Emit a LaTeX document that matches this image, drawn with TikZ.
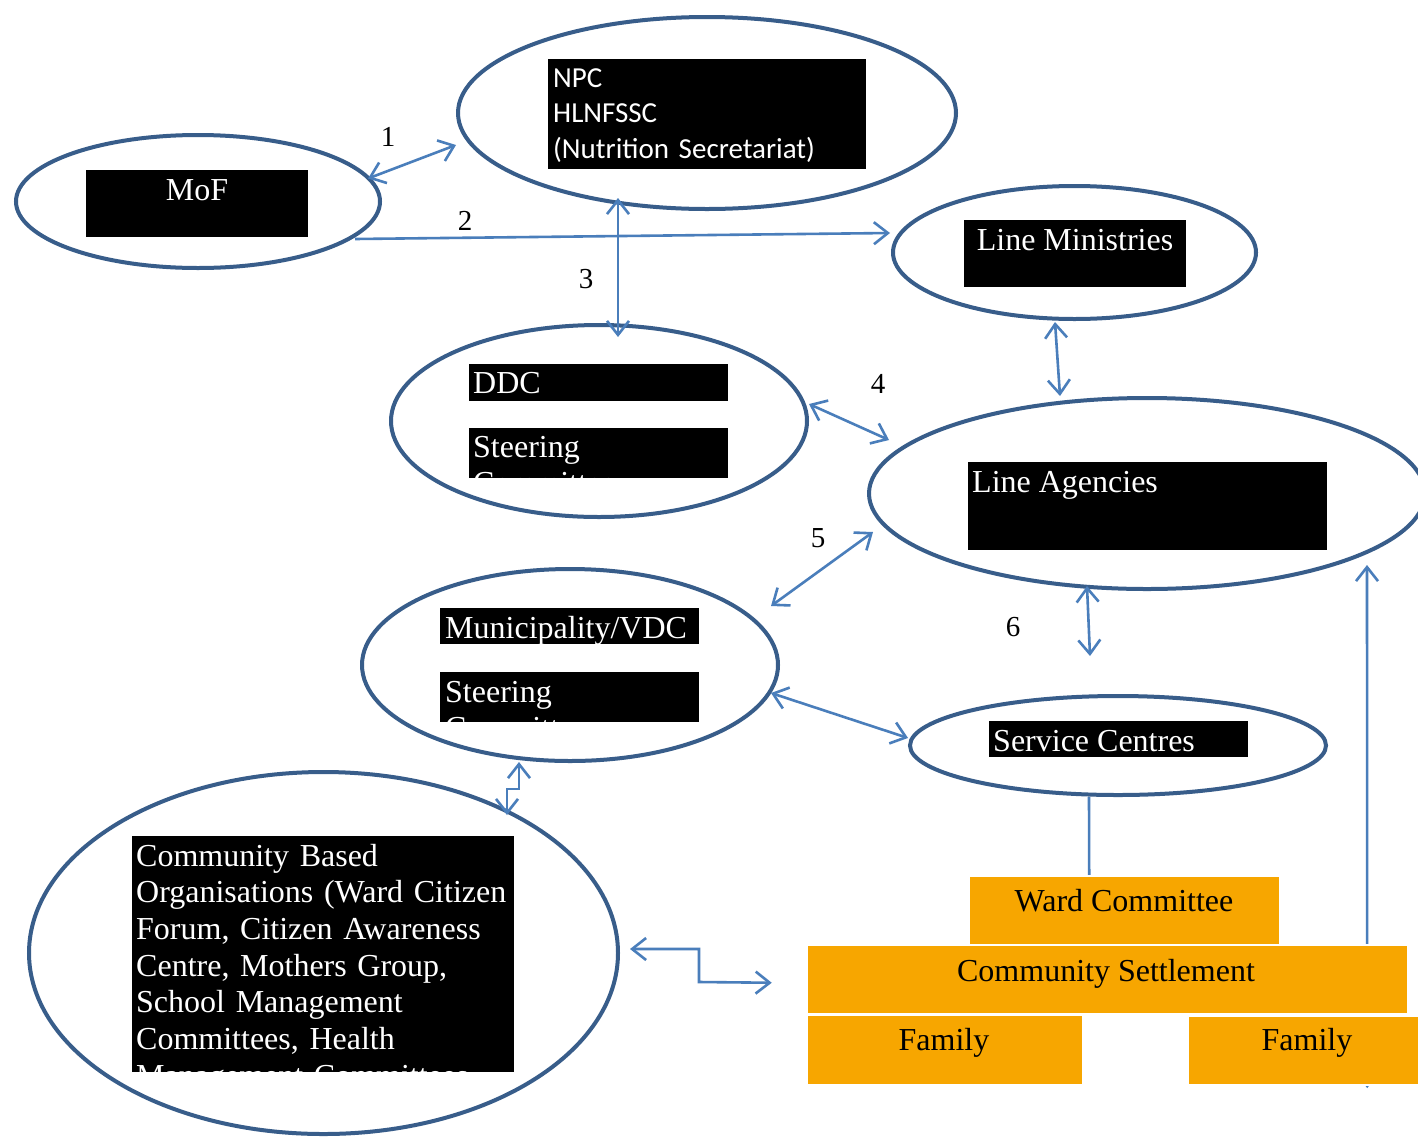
\documentclass[tikz,border=0pt]{standalone}
\usepackage{fontspec}
\setmainfont{Liberation Serif}
\newfontfamily\calfont{Carlito}
\usetikzlibrary{shapes.geometric,arrows.meta,calc}
\definecolor{ellblue}{RGB}{56,93,138}
\definecolor{arrblue}{RGB}{74,126,187}
\definecolor{orng}{RGB}{247,166,0}
\begin{document}
\begin{tikzpicture}[x=1pt,y=-1pt,
  ell/.style={ellipse, draw=ellblue, line width=4pt, inner sep=0pt},
  blk/.style={fill=black, inner sep=0pt, anchor=north west},
  obox/.style={fill=orng, draw=white, line width=1.5pt, inner sep=0pt, anchor=north west},
  wtxt/.style={text=white, inner sep=0pt, font=\fontsize{32}{36.7}\selectfont},
  btxt/.style={text=black, inner sep=0pt, anchor=base, font=\fontsize{32}{36.7}\selectfont},
  num/.style={inner sep=0pt, anchor=base, font=\fontsize{29}{30}\selectfont},
  link/.style={draw=arrblue, line width=2.6pt, >={Straight Barb[length=14pt,width=22pt]}}
]
\useasboundingbox (0,0) rectangle (1418,1138);
\clip (0,0) rectangle (1418,1138);
\fill[white] (0,0) rectangle (1418,1138);

% ellipses
\node[ell, minimum width=498, minimum height=192] (npc) at (707,113) {};
\node[ell, minimum width=364, minimum height=133] (mof) at (198,201.5) {};
\node[ell, minimum width=363, minimum height=133] (lm) at (1074.5,252.5) {};
\node[ell, minimum width=416, minimum height=192] (ddc) at (599,421) {};
\node[ell, minimum width=556, minimum height=191] (la) at (1147,493.5) {};
\node[ell, minimum width=416, minimum height=192] (muni) at (570,665) {};
\node[ell, minimum width=416, minimum height=99] (sc) at (1118,745.5) {};
\node[ell, minimum width=589, minimum height=362] (cbo) at (323.5,953) {};

% black boxes
\node[blk, minimum width=318, minimum height=110] (npcbox) at (548,59) {};
\node[blk, minimum width=222, minimum height=67] (mofbox) at (86,170) {};
\node[blk, minimum width=222, minimum height=67] (lmbox) at (964,220) {};
\node[blk, minimum width=259, minimum height=37] (ddcbox) at (469,364) {};
\node[blk, minimum width=259, minimum height=50] (ddcsbox) at (469,428) {};
\node[blk, minimum width=359, minimum height=88] (labox) at (968,462) {};
\node[blk, minimum width=259, minimum height=36] (munibox) at (440,608) {};
\node[blk, minimum width=259, minimum height=50] (munisbox) at (440,672) {};
\node[blk, minimum width=259, minimum height=36] (scbox) at (989,721) {};
\node[blk, minimum width=382, minimum height=236] (cbobox) at (132,836) {};

% white texts
\node[text=white, inner sep=0pt, anchor=base west, align=left, text width=310pt,
  font=\calfont\fontsize{29}{35.5}\selectfont] (npctxt) at (553,87)
  {NPC\\HLNFSSC\\(Nutrition Secretariat)};
\node[wtxt, anchor=base] (moftxt) at (197,200) {MoF};
\node[wtxt, anchor=base] (lmtxt) at (1075,250) {Line Ministries};
\node[wtxt, anchor=base west] (ddctxt) at (473,393) {DDC};
\begin{scope}
  \clip (ddcsbox.south west) rectangle (ddcsbox.north east);
  \node[wtxt, anchor=base west, align=left, text width=250pt] (ddcstxt) at (473,457) {Steering\\Committee};
\end{scope}
\node[wtxt, anchor=base west] (latxt) at (972,492) {Line Agencies};
\node[wtxt, anchor=base west] (munitxt) at (445,638) {Municipality/VDC};
\begin{scope}
  \clip (munisbox.south west) rectangle (munisbox.north east);
  \node[wtxt, anchor=base west, align=left, text width=250pt] (munistxt) at (445,702) {Steering\\Committee};
\end{scope}
\node[wtxt, anchor=base west] (sctxt) at (993,751) {Service Centres};
\begin{scope}
  \clip (cbobox.south west) rectangle (cbobox.north east);
  \node[wtxt, anchor=base west, align=left, text width=375pt] (cbotxt) at (136,866)
   {Community Based\\Organisations (Ward Citizen\\Forum, Citizen Awareness\\Centre, Mothers Group,\\School Management\\Committees, Health\\Management Committees};
\end{scope}

% lines behind the orange boxes
\node[inner sep=0pt, minimum width=241, minimum height=69, anchor=north west] (famRpos) at (1187,1015) {};
\draw[link, {Triangle[width=7pt,length=5pt]}-{Straight Barb[length=14pt,width=22pt]}]
  ($(famRpos.center)+(59.5,38.5)$) -- ($(la.center)+(220,71.5)$);
\node[inner sep=0pt, minimum width=311, minimum height=69, anchor=north west] (wcpos) at (968,875) {};
\draw[link] ($(sc.center)+(-29,51.5)$) -- ($(wcpos.center)+(-34.5,-34.5)$);

% orange boxes
\node[obox, minimum width=311, minimum height=69] (wc) at (968,875) {};
\node[obox, minimum width=601, minimum height=69] (cs) at (806,944) {};
\node[obox, minimum width=276, minimum height=70] (famL) at (806,1014) {};
\node[obox, minimum width=241, minimum height=69] (famR) at (1187,1015) {};
\node[btxt] (wctxt) at (1124,911) {Ward Committee};
\node[btxt] (cstxt) at (1106,981) {Community Settlement};
\node[btxt] (famLtxt) at (944,1050) {Family};
\node[btxt] (famRtxt) at (1307,1050) {Family};

% number labels
\node[num] (n1) at (388,146) {1};
\node[num] (n2) at (465,230) {2};
\node[num] (n3) at (586,288) {3};
\node[num] (n4) at (878,393) {4};
\node[num] (n5) at (818,547) {5};
\node[num] (n6) at (1013,636) {6};

% connectors
\draw[link,<->] ($(mof.center)+(170,-23)$) -- ($(npc.center)+(-251,32)$);
\draw[link,->] ($(mof.center)+(157,37.5)$) -- ($(lm.center)+(-184.5,-19.5)$);
\draw[link,<->] ($(npc.center)+(-89,85)$) -- ($(ddc.center)+(19,-84)$);
\draw[link,<->] ($(ddc.center)+(210,-17)$) -- ($(la.center)+(-258,-53.5)$);
\draw[link,<->] ($(lm.center)+(-19.5,69.5)$) -- ($(la.center)+(-87,-97.5)$);
\draw[link,<->] ($(muni.center)+(201,-59)$) -- ($(la.center)+(-274,38.5)$);
\draw[link,<->] ($(la.center)+(-60,92.5)$) -- ($(sc.center)+(-28,-89.5)$);
\draw[link,<->] ($(muni.center)+(201,28)$) -- ($(sc.center)+(-210,-7.5)$);
\draw[link,<->] ($(muni.center)+(-51,97)$) -- ++(0,27) -- ++(-12,0) -- ($(cbo.center)+(183.5,-138)$);
\draw[link,<->] ($(cbo.center)+(306.5,-4)$) -- ++(69,0) -- ++(0,33) -- ($(cs.center)+(-335.5,3.5)$);
\end{tikzpicture}
\end{document}
